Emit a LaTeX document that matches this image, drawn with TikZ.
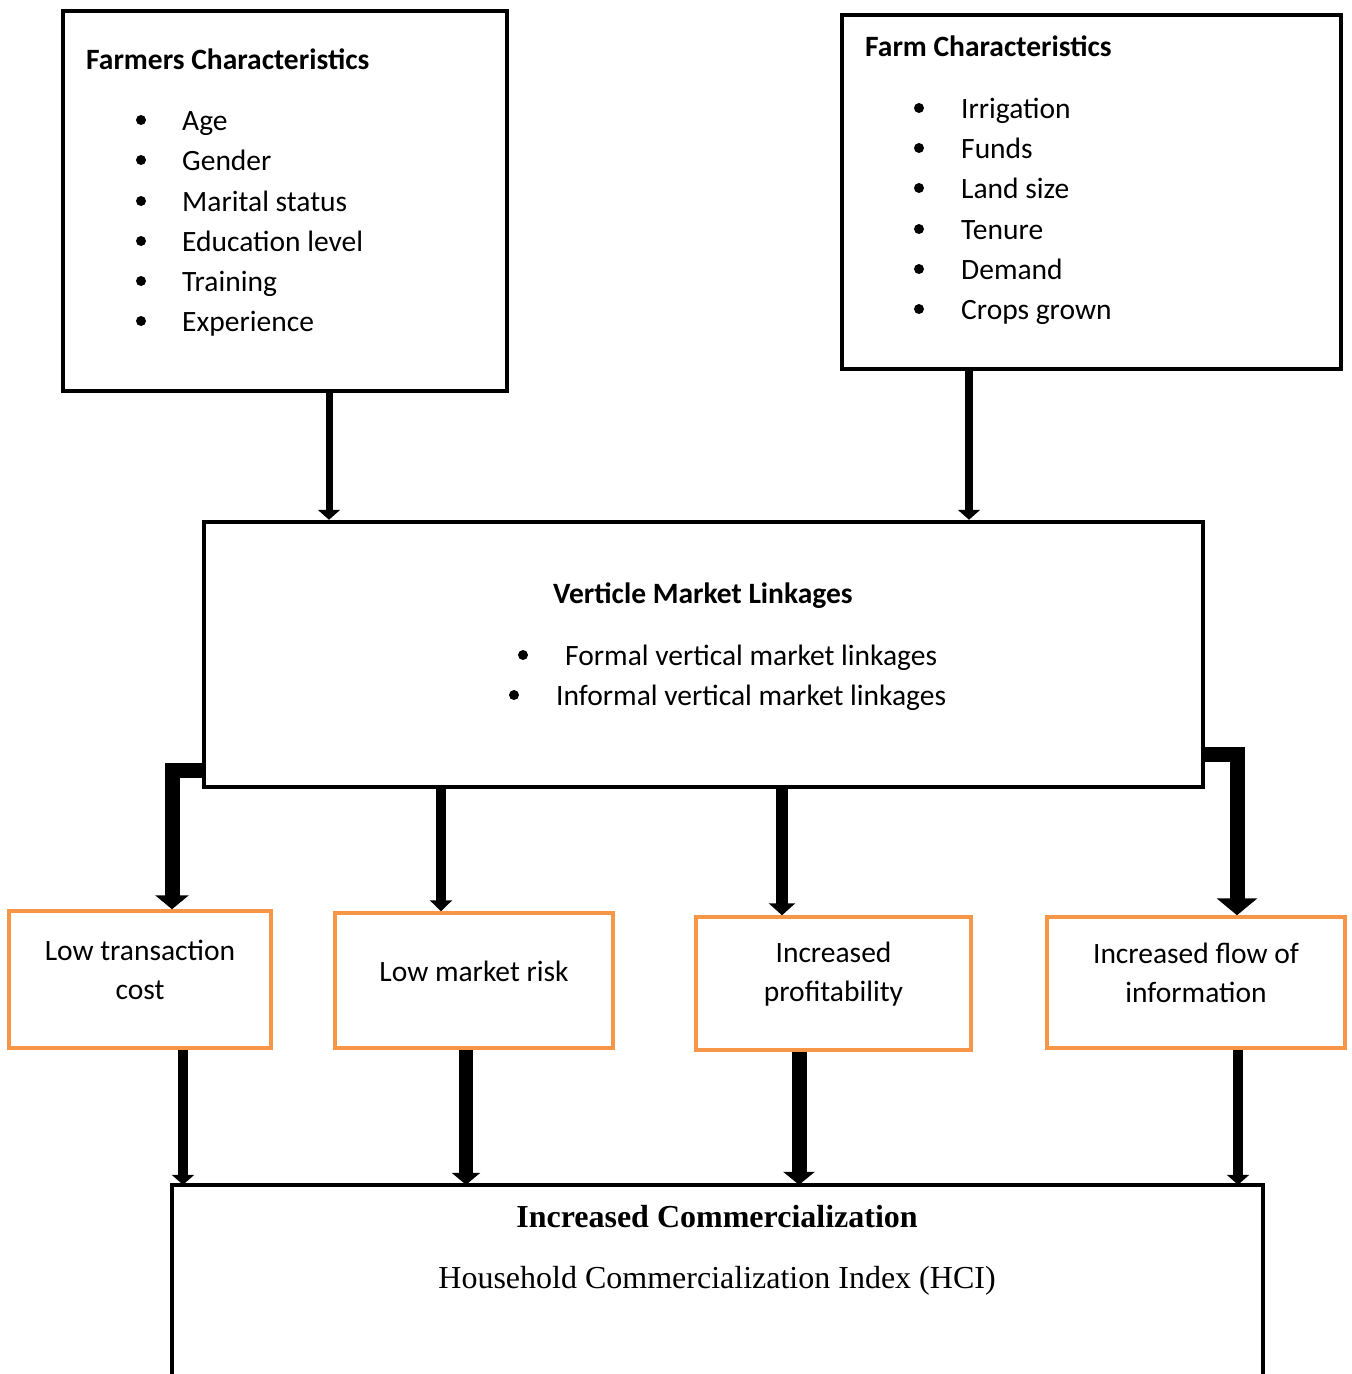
\documentclass[tikz,border=0pt]{standalone}
\usepackage{fontspec}
\setmainfont{Carlito}
\newfontfamily\tnr{Liberation Serif}
\usetikzlibrary{arrows.meta}
\definecolor{orng}{RGB}{247,150,70}
\tikzset{
  bbox/.style={draw=black, line width=4.5pt, inner sep=0pt, minimum width=#1},
  obox/.style={draw=orng, line width=3.5pt, inner sep=0pt},
  txt/.style={inner sep=0pt, font=\fontsize{29.5pt}{35pt}\selectfont},
  two/.style={inner sep=0pt, align=center, font=\fontsize{29.5pt}{39pt}\selectfont},
  hd/.style={inner sep=0pt, font=\fontsize{29.5pt}{35pt}\selectfont\bfseries},
  arr/.style n args={3}{line width=#1, -{Triangle[width=#2, length=#3]}},
}
\begin{document}
\begin{tikzpicture}[x=1pt,y=-1pt]
\useasboundingbox (0,0) rectangle (1352,1374);
% main boxes
\node[bbox=444pt, minimum height=380pt] (fc) at (285,201) {};
\node[bbox=499pt, minimum height=354pt] (fm) at (1091.5,192) {};
\node[bbox=999pt, minimum height=265pt] (vm) at (703.5,654.5) {};
% orange boxes
\node[obox, minimum width=262pt, minimum height=137pt] (lt) at (140,979.5) {};
\node[obox, minimum width=278pt, minimum height=135pt] (lm) at (474,980.5) {};
\node[obox, minimum width=275pt, minimum height=133pt] (ip) at (833.5,983.5) {};
\node[obox, minimum width=298pt, minimum height=131pt] (fl) at (1196,982.5) {};
% bottom box (open at the bottom)
\node[inner sep=0pt, minimum width=1091pt, minimum height=189pt] (hc) at (717.5,1279.5) {};
\draw[line width=4.5pt] (hc.south west) -- (hc.north west) -- (hc.north east) -- (hc.south east);

% texts: farmers characteristics
\node[hd, anchor=mid west] (fch) at (86,67) {Farmers Characteristics};
\node[txt, anchor=mid west] (f1) at (182,128) {Age};
\node[txt, anchor=mid west] (f2) at (182,168) {Gender};
\node[txt, anchor=mid west] (f3) at (182,209) {Marital status};
\node[txt, anchor=mid west] (f4) at (182,249) {Education level};
\node[txt, anchor=mid west] (f5) at (182,289) {Training};
\node[txt, anchor=mid west] (f6) at (182,329) {Experience};
\foreach \y in {120,160,201,241,281,321} \fill (141,\y) circle (5pt);

% farm characteristics
\node[hd, anchor=mid west] (fmh) at (865,54) {Farm Characteristics};
\node[txt, anchor=mid west] (g1) at (961,116) {Irrigation};
\node[txt, anchor=mid west] (g2) at (961,156) {Funds};
\node[txt, anchor=mid west] (g3) at (961,196) {Land size};
\node[txt, anchor=mid west] (g4) at (961,237) {Tenure};
\node[txt, anchor=mid west] (g5) at (961,277) {Demand};
\node[txt, anchor=mid west] (g6) at (961,317) {Crops grown};
\foreach \y in {108,148,188,229,269,309} \fill (919,\y) circle (5pt);

% vertical market linkages
\node[hd, anchor=mid] (vmh) at (703,601) {Verticle Market Linkages};
\node[txt, anchor=mid west] (v1) at (565,663) {Formal vertical market linkages};
\node[txt, anchor=mid west] (v2) at (556,703) {Informal vertical market linkages};
\fill (523,655) circle (5pt);
\fill (514,695) circle (5pt);

% orange box texts
\node[two] (ltt) at ([yshift=10pt]lt) {Low transaction\\cost};
\node[txt] (lmt) at ([yshift=9pt]lm) {Low market risk};
\node[two] (ipt) at ([yshift=9pt]ip) {Increased\\profitability};
\node[two] (flt) at ([yshift=10pt]fl) {Increased flow of\\information};

% bottom texts
\node[inner sep=0pt, font=\fontsize{32pt}{38pt}\selectfont\tnr\bfseries] (hct) at (717,1217) {Increased Commercialization};
\node[inner sep=0pt, font=\fontsize{32pt}{38pt}\selectfont\tnr] (hci) at (717,1281) {Household Commercialization Index (HCI)};

% arrows top
\draw[arr={7pt}{22pt}{10pt}] ([xshift=44pt]fc.south) -- ([xshift=44pt]fc.south |- vm.north);
\draw[arr={8pt}{22pt}{10pt}] ([xshift=-122.5pt]fm.south) -- ([xshift=-122.5pt]fm.south |- vm.north);

% arrows from vm
\draw[arr={15pt}{33pt}{14pt}] ([yshift=19pt]vm.south west) -| ([xshift=32pt]lt.north);
\draw[arr={15pt}{40pt}{17pt}] ([yshift=35pt]vm.south east) -| ([xshift=41pt]fl.north);
\draw[arr={10pt}{22pt}{11pt}] ([xshift=-33pt]lm.north |- vm.south) -- ([xshift=-33pt]lm.north);
\draw[arr={12pt}{26pt}{12pt}] ([xshift=-51.5pt]ip.north |- vm.south) -- ([xshift=-51.5pt]ip.north);

% arrows to hc
\draw[arr={10pt}{22pt}{10pt}] ([xshift=43pt]lt.south) -- ([xshift=43pt]lt.south |- hc.north);
\draw[arr={14pt}{28pt}{12pt}] ([xshift=-8pt]lm.south) -- ([xshift=-8pt]lm.south |- hc.north);
\draw[arr={15pt}{31pt}{13pt}] ([xshift=-34.5pt]ip.south) -- ([xshift=-34.5pt]ip.south |- hc.north);
\draw[arr={10pt}{22pt}{10pt}] ([xshift=42pt]fl.south) -- ([xshift=42pt]fl.south |- hc.north);
\end{tikzpicture}
\end{document}
